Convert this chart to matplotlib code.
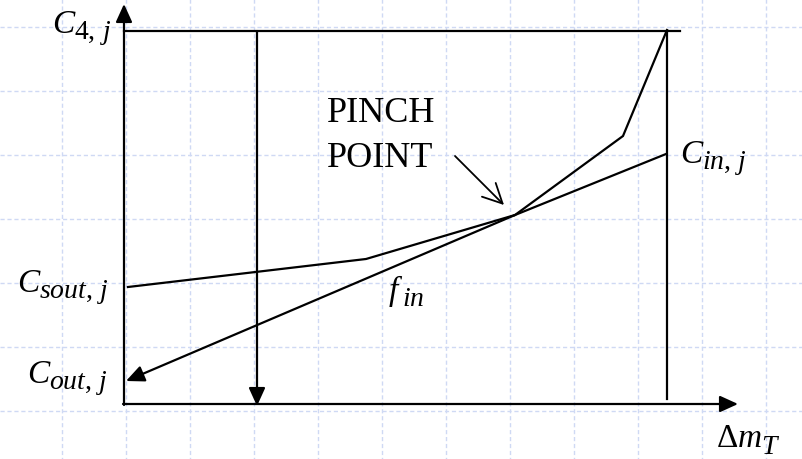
import matplotlib
matplotlib.use("Agg")
import matplotlib.pyplot as plt
import numpy as np

plt.rcParams['mathtext.fontset'] = 'custom'
plt.rcParams['mathtext.rm'] = 'Liberation Serif'
plt.rcParams['mathtext.it'] = 'Liberation Serif:italic'
plt.rcParams['font.family'] = ['Liberation Serif', 'DejaVu Serif']

W, H = 802, 460

# Schematic coordinates (canvas units, y measured downward)
origin = (124, 405)
y_axis_top = 5
x_axis_end = 738
top_level = 32
top_line_end = 680
right_x = 667
right_bottom = 400
drop_x = 257

# Composite (upper) curve from C_sout,j up to C_4,j
curve_x = [128, 366, 515, 623, 667]
curve_y = [288, 260, 216, 137, 31]

# Straight supply line from C_in,j through the pinch to C_out,j
line_x = [666, 515, 126]
line_y = [155, 216, 382]

pinch_arrow_from = (455, 157)
pinch_arrow_to = (504, 206)

grid_x = np.arange(62, W, 64)
grid_y = np.arange(28, H, 64)

# label: (main symbol, subscript, left x, baseline y, subscript drop, kerning)
labels = [
    (r'$C$', r'$4,\,j$', 52, 33, 6, -3),
    (r'$C$', r'$sout,\,j$', 17, 292, 6, -3),
    (r'$C$', r'$out,\,j$', 27, 383, 6, -3),
    (r'$C$', r'$in,\,j$', 680, 163, 6, -3),
    (r'$f$', r'$in$', 388, 300, 6, -1),
    (r'$\Delta m$', r'$T$', 716, 447, 7, -1),
]

fig = plt.figure(figsize=(W / 100, H / 100), dpi=100)
ax = fig.add_axes([0, 0, 1, 1])
ax.set_xlim(0, W)
ax.set_ylim(H, 0)
ax.axis('off')

# dashed background grid
for gx in grid_x:
    ax.plot([gx, gx], [0, H], color='#cfd9f4', lw=1.0, ls=(0, (3, 2)), zorder=0)
for gy in grid_y:
    ax.plot([0, W], [gy, gy], color='#cfd9f4', lw=1.0, ls=(0, (3, 2)), zorder=0)

lw = 1.6
k = 'black'
head = '-|>,head_length=0.55,head_width=0.25'


def arrow(p_to, p_from, style=head, width=lw):
    ax.annotate('', xy=p_to, xytext=p_from,
                arrowprops=dict(arrowstyle=style, color=k, lw=width,
                                mutation_scale=20, shrinkA=0, shrinkB=0))


# axes with arrows
arrow((origin[0], y_axis_top), (origin[0], origin[1] + 1))
arrow((x_axis_end, origin[1]), (origin[0] - 1, origin[1]))

# upper bound and right boundary
ax.plot([origin[0], top_line_end], [top_level, top_level], color=k, lw=lw)
ax.plot([right_x, right_x], [top_level, right_bottom], color=k, lw=lw)

# downward arrow
arrow((drop_x, origin[1] + 2), (drop_x, top_level))

# composite curve
ax.plot(curve_x, curve_y, color=k, lw=lw, solid_joinstyle='miter')

# supply line with arrowhead at C_out,j
ax.plot(line_x[:-1], line_y[:-1], color=k, lw=lw)
arrow((line_x[-1], line_y[-1]), (line_x[-2], line_y[-2]))

# pinch point pointer
arrow(pinch_arrow_to, pinch_arrow_from,
      style='->,head_length=0.7,head_width=0.35', width=1.3)

# symbol labels with large, slightly lowered subscripts
renderer = fig.canvas.get_renderer()
fs_main, fs_sub = 24, 20
for main, sub, x0, y0, drop, kern in labels:
    t = ax.text(x0, y0, main, fontsize=fs_main, ha='left', va='baseline')
    bb = t.get_window_extent(renderer)
    ax.text(x0 + bb.width + kern, y0 + drop, sub, fontsize=fs_sub,
            ha='left', va='baseline')

ax.text(327, 122, 'PINCH', fontsize=26, ha='left', va='baseline')
ax.text(327, 167, 'POINT', fontsize=26, ha='left', va='baseline')

fig.savefig('out.png', dpi=100)
